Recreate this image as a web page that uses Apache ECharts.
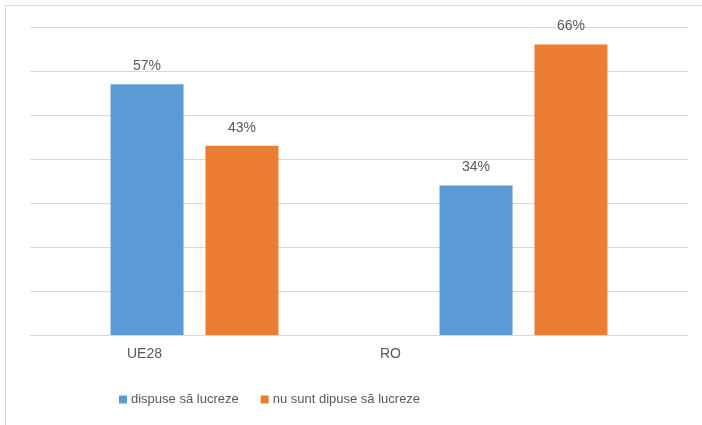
<!DOCTYPE html>
<html>
<head>
<meta charset="utf-8">
<script src="https://cdn.jsdelivr.net/npm/echarts@6/dist/echarts.min.js"></script>
<style>
  html, body { margin: 0; padding: 0; background: #fff; }
  #chart { width: 702px; height: 425px; }
</style>
</head>
<body>
<div id="chart"></div>
<script>
// data
var categories = ['UE28', 'RO'];
var seriesNames = ['dispuse să lucreze', 'nu sunt dipuse să lucreze'];
var willing = [57, 34];
var notWilling = [43, 66];

var colorBlue = '#5B9BD5';
var colorOrange = '#ED7D31';
var textFont = '"Liberation Sans", sans-serif';

var chart = echarts.init(document.getElementById('chart'));

var labelStyle = {
    show: true,
    position: 'top',
    distance: 11,
    formatter: '{c}%',
    color: '#595959',
    fontSize: 14,
    fontFamily: textFont
};

var options = {
    animation: false,
    graphic: [{
        type: 'rect',
        shape: { x: 5.5, y: 5.5, width: 720, height: 440 },
        style: { fill: 'none', stroke: '#d9d9d9', lineWidth: 1 },
        silent: true
    }],
    grid: { left: 30, right: 14, top: 27, bottom: 90 },
    legend: {
        data: seriesNames,
        left: 114,
        top: 388,
        itemWidth: 8,
        itemHeight: 8,
        itemGap: 22,
        icon: 'rect',
        textStyle: { color: '#595959', fontSize: 13, fontFamily: textFont, padding: [0, 0, 0, -1] }
    },
    xAxis: {
        type: 'category',
        data: [
            { value: categories[0], textStyle: { padding: [0, 100, 0, 0] } },
            { value: categories[1], textStyle: { padding: [0, 266, 0, 0] } }
        ],
        axisLine: { lineStyle: { color: '#d9d9d9', width: 1 } },
        axisTick: { show: false },
        axisLabel: { color: '#595959', fontSize: 14, fontFamily: textFont, margin: 12 }
    },
    yAxis: {
        type: 'value',
        min: 0,
        max: 70,
        interval: 10,
        axisLabel: { show: false },
        axisLine: { show: false },
        axisTick: { show: false },
        splitLine: { lineStyle: { color: '#d9d9d9', width: 1 } }
    },
    series: [{
        name: seriesNames[0],
        type: 'bar',
        data: willing,
        barWidth: 73,
        barGap: '30%',
        itemStyle: { color: colorBlue },
        label: labelStyle
    }, {
        name: seriesNames[1],
        type: 'bar',
        data: notWilling,
        barWidth: 73,
        barGap: '30%',
        itemStyle: { color: colorOrange },
        label: labelStyle
    }]
};

chart.setOption(options);
</script>
</body>
</html>
